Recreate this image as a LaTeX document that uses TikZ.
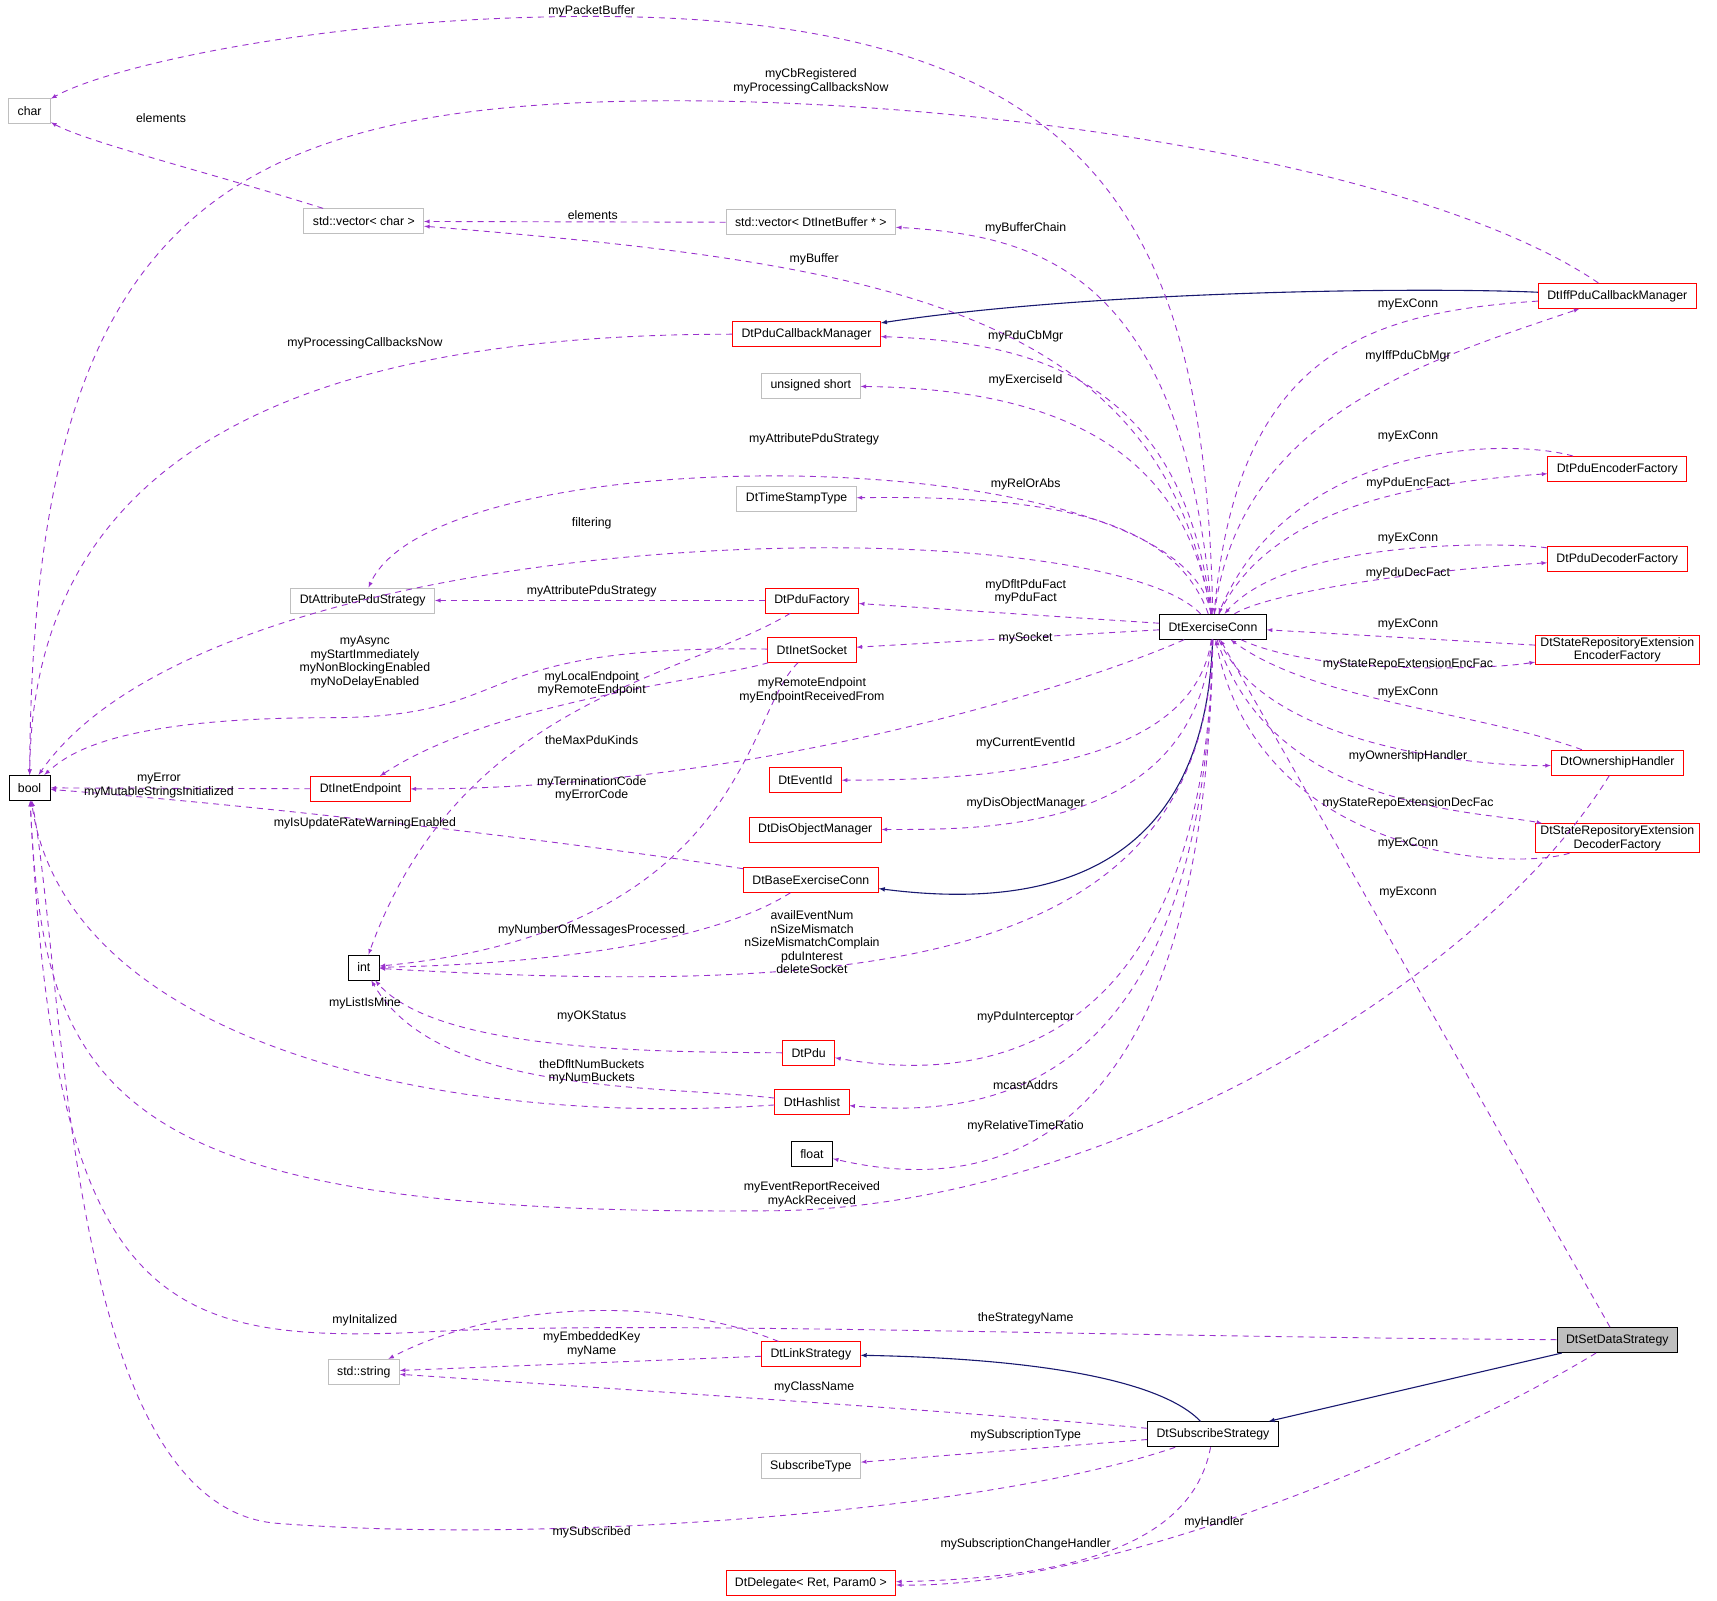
\documentclass[tikz,border=0pt]{standalone}
\usepackage{fontspec}
\setmainfont{Liberation Sans}
\usetikzlibrary{arrows}
\definecolor{deppurple}{RGB}{154, 50, 205}
\definecolor{inhnavy}{RGB}{25, 25, 112}
\definecolor{boxgray}{RGB}{191, 191, 191}
\tikzstyle{cls}=[draw,fill=white,line width=0.9pt,inner xsep=9pt,inner ysep=2pt,minimum height=25pt,font=\fontsize{12.3}{13.5}\selectfont,align=center]
\tikzstyle{clsred}=[cls,draw=red]
\tikzstyle{clsgray}=[cls,draw=boxgray]
\tikzstyle{dep}=[->,>=latex,deppurple,line width=0.9pt,dash pattern=on 6pt off 5pt]
\tikzstyle{inh}=[->,>=latex,inhnavy,line width=1.1pt]
\tikzstyle{lbl}=[font=\fontsize{12.3}{13.5}\selectfont,align=center,inner sep=0pt]

\begin{document}
\begin{tikzpicture}[x=1.096pt,y=-1.096pt]
\useasboundingbox (0,0) rectangle (1567,1461);

\node[clsgray] (char) at (27,101) {char};
\node[cls] (bool) at (27,719) {bool};
\node[clsgray] (vchar) at (332,202) {std::vector< char >};
\node[clsgray] (vbuf) at (740,203) {std::vector< DtInetBuffer * >};
\node[clsred] (pcm) at (736,305) {DtPduCallbackManager};
\node[clsgray] (ushort) at (740,352) {unsigned short};
\node[clsgray] (ts) at (727,455) {DtTimeStampType};
\node[clsgray] (attr) at (331,548) {DtAttributePduStrategy};
\node[clsred] (pf) at (741,548) {DtPduFactory};
\node[clsred] (sock) at (741,593) {DtInetSocket};
\node[clsred] (ep) at (329,720) {DtInetEndpoint};
\node[clsred] (eid) at (735,712) {DtEventId};
\node[clsred] (dom) at (744,757) {DtDisObjectManager};
\node[clsred] (base) at (740,803) {DtBaseExerciseConn};
\node[cls] (int) at (332,883) {int};
\node[clsred] (pdu) at (738,961) {DtPdu};
\node[clsred] (hash) at (741,1006) {DtHashlist};
\node[cls] (fl) at (741,1053) {float};
\node[clsgray] (str) at (332,1252) {std::string};
\node[clsred] (link) at (740,1236) {DtLinkStrategy};
\node[clsgray] (stype) at (740,1338) {SubscribeType};
\node[clsred] (del) at (740,1445) {DtDelegate< Ret, Param0 >};
\node[cls] (sub) at (1107,1309) {DtSubscribeStrategy};
\node[cls,fill=boxgray] (sds) at (1476,1223) {DtSetDataStrategy};
\node[cls] (E) at (1107,572) {DtExerciseConn};
\node[clsred] (iff) at (1476,270) {DtIffPduCallbackManager};
\node[clsred] (enc) at (1476,428) {DtPduEncoderFactory};
\node[clsred] (dec) at (1476,510) {DtPduDecoderFactory};
\node[clsred,inner xsep=5pt] (srenc) at (1476,593) {DtStateRepositoryExtension\\EncoderFactory};
\node[clsred] (own) at (1476,696) {DtOwnershipHandler};
\node[clsred,inner xsep=5pt] (srdec) at (1476,765) {DtStateRepositoryExtension\\DecoderFactory};

% inheritance
\draw[inh] (iff) .. controls (1300,262) and (1000,265) .. (pcm);
\draw[inh] (E) .. controls (1100,800) and (950,830) .. (base);
\draw[inh] (sub) .. controls (1060,1260) and (950,1240) .. (link);
\draw[inh] (sds) -- (sub);

% upper members
\draw[dep] (E) .. controls (1100,200) and (1000,15) .. (540,15) .. controls (300,15) and (100,60) .. (char);
\draw[dep] (iff) .. controls (1300,150) and (900,90) .. (600,92) .. controls (200,95) and (30,200) .. (bool);
\draw[dep] (vchar) .. controls (200,160) and (80,130) .. (char);
\draw[dep] (vbuf) -- (vchar);
\draw[dep] (E) .. controls (1080,250) and (950,215) .. (vbuf);
\draw[dep] (E) .. controls (1060,280) and (800,240) .. (vchar);
\draw[dep] (pcm) .. controls (300,305) and (30,400) .. (bool);
\draw[dep] (E) .. controls (1080,350) and (950,312) .. (pcm);
\draw[dep] (iff) .. controls (1250,285) and (1130,320) .. (E);
\draw[dep] (E) .. controls (1130,380) and (1300,330) .. (iff);
\draw[dep] (E) .. controls (1080,400) and (400,395) .. (attr);
\draw[dep] (E) .. controls (1080,400) and (950,355) .. (ushort);
\draw[dep] (E) .. controls (1070,470) and (950,452) .. (ts);
\draw[dep] (enc) .. controls (1380,400) and (1180,400) .. (E);
\draw[dep] (E) .. controls (1160,460) and (1300,440) .. (enc);
\draw[dep] (E) .. controls (1000,460) and (200,470) .. (bool);
\draw[dep] (dec) .. controls (1380,495) and (1180,490) .. (E);
\draw[dep] (E) .. controls (1160,540) and (1300,520) .. (dec);
\draw[dep] (pf) -- (attr);
\draw[dep] (E) -- (pf);
\draw[dep] (E) -- (sock);
\draw[dep] (srenc) -- (E);
\draw[dep] (E) .. controls (1200,615) and (1350,612) .. (srenc);
\draw[dep] (sock) .. controls (420,588) and (480,655) .. (300,655) .. controls (100,655) and (60,690) .. (bool);
\draw[dep] (sock) .. controls (650,620) and (450,640) .. (ep);
\draw[dep] (E) .. controls (1000,620) and (700,720) .. (ep);
\draw[dep] (own) .. controls (1350,650) and (1200,640) .. (E);
\draw[dep] (E) .. controls (1160,690) and (1380,700) .. (own);
\draw[dep] (pf) .. controls (620,620) and (420,640) .. (int);
\draw[dep] (sock) .. controls (680,650) and (680,850) .. (int);
\draw[dep] (ep) -- (bool);
\draw[dep] (E) .. controls (1090,700) and (900,712) .. (eid);
\draw[dep] (E) .. controls (1090,760) and (900,757) .. (dom);
\draw[dep] (base) .. controls (600,780) and (300,740) .. (bool);
\draw[dep] (E) .. controls (1160,740) and (1350,740) .. (srdec);
\draw[dep] (srdec) .. controls (1380,795) and (1150,785) .. (E);
\draw[dep] (base) .. controls (650,860) and (500,880) .. (int);
\draw[dep] (E) .. controls (1100,880) and (800,910) .. (int);
\draw[dep] (sds) -- (E);

% lower members
\draw[dep] (hash) .. controls (400,1030) and (60,950) .. (bool);
\draw[dep] (pdu) .. controls (600,960) and (400,960) .. (int);
\draw[dep] (E) .. controls (1100,960) and (900,990) .. (pdu);
\draw[dep] (hash) .. controls (600,990) and (400,1000) .. (int);
\draw[dep] (E) .. controls (1100,1000) and (900,1020) .. (hash);
\draw[dep] (E) .. controls (1100,1060) and (900,1090) .. (fl);
\draw[dep] (own) .. controls (1350,900) and (1000,1105) .. (700,1105) .. controls (100,1110) and (40,1000) .. (bool);
\draw[dep] (sds) .. controls (1000,1220) and (600,1205) .. (400,1215) .. controls (150,1228) and (50,1200) .. (bool);
\draw[dep] (link) .. controls (600,1180) and (450,1190) .. (str);
\draw[dep] (link) -- (str);
\draw[dep] (sub) .. controls (900,1290) and (600,1270) .. (str);
\draw[dep] (sub) -- (stype);
\draw[dep] (sub) .. controls (900,1380) and (500,1410) .. (250,1390) .. controls (60,1370) and (60,900) .. (bool);
\draw[dep] (sub) .. controls (1090,1400) and (1000,1440) .. (del);
\draw[dep] (sds) .. controls (1300,1330) and (1000,1450) .. (del);

% labels
\node[lbl] (l1) at (540,10) {myPacketBuffer};
\node[lbl] (l2) at (740,74) {myCbRegistered\\myProcessingCallbacksNow};
\node[lbl] (l3) at (147,108) {elements};
\node[lbl] (l4) at (541,196) {elements};
\node[lbl] (l5) at (936,208) {myBufferChain};
\node[lbl] (l6) at (743,237) {myBuffer};
\node[lbl] (l7) at (333,313) {myProcessingCallbacksNow};
\node[lbl] (l8) at (936,307) {myPduCbMgr};
\node[lbl] (l9) at (1285,278) {myExConn};
\node[lbl] (l10) at (1285,325) {myIffPduCbMgr};
\node[lbl] (l11) at (936,347) {myExerciseId};
\node[lbl] (l12) at (743,401) {myAttributePduStrategy};
\node[lbl] (l13) at (936,442) {myRelOrAbs};
\node[lbl] (l14) at (1285,398) {myExConn};
\node[lbl] (l15) at (1285,441) {myPduEncFact};
\node[lbl] (l16) at (540,478) {filtering};
\node[lbl] (l17) at (1285,491) {myExConn};
\node[lbl] (l18) at (1285,523) {myPduDecFact};
\node[lbl] (l19) at (540,540) {myAttributePduStrategy};
\node[lbl] (l20) at (936,540) {myDfltPduFact\\myPduFact};
\node[lbl] (l21) at (936,583) {mySocket};
\node[lbl] (l22) at (1285,570) {myExConn};
\node[lbl] (l23) at (1285,606) {myStateRepoExtensionEncFac};
\node[lbl] (l24) at (333,604) {myAsync\\myStartImmediately\\myNonBlockingEnabled\\myNoDelayEnabled};
\node[lbl] (l25) at (540,624) {myLocalEndpoint\\myRemoteEndpoint};
\node[lbl] (l26) at (741,630) {myRemoteEndpoint\\myEndpointReceivedFrom};
\node[lbl] (l27) at (1285,632) {myExConn};
\node[lbl] (l28) at (1285,690) {myOwnershipHandler};
\node[lbl] (l29) at (540,675) {theMaxPduKinds};
\node[lbl] (l30) at (540,720) {myTerminationCode\\myErrorCode};
\node[lbl] (l31) at (145,717) {myError\\myMutableStringsInitialized};
\node[lbl] (l32) at (936,678) {myCurrentEventId};
\node[lbl] (l33) at (936,733) {myDisObjectManager};
\node[lbl] (l34) at (333,751) {myIsUpdateRateWarningEnabled};
\node[lbl] (l35) at (1285,733) {myStateRepoExtensionDecFac};
\node[lbl] (l36) at (1285,770) {myExConn};
\node[lbl] (l37) at (540,849) {myNumberOfMessagesProcessed};
\node[lbl] (l38) at (741,860) {availEventNum\\nSizeMismatch\\nSizeMismatchComplain\\pduInterest\\deleteSocket};
\node[lbl] (l39) at (1285,815) {myExconn};
\node[lbl] (l40) at (333,916) {myListIsMine};
\node[lbl] (l41) at (540,928) {myOKStatus};
\node[lbl] (l42) at (936,928) {myPduInterceptor};
\node[lbl] (l43) at (540,978) {theDfltNumBuckets\\myNumBuckets};
\node[lbl] (l44) at (936,990) {mcastAddrs};
\node[lbl] (l45) at (936,1028) {myRelativeTimeRatio};
\node[lbl] (l46) at (741,1090) {myEventReportReceived\\myAckReceived};
\node[lbl] (l47) at (936,1203) {theStrategyName};
\node[lbl] (l48) at (333,1205) {myInitalized};
\node[lbl] (l49) at (540,1227) {myEmbeddedKey\\myName};
\node[lbl] (l50) at (743,1266) {myClassName};
\node[lbl] (l51) at (936,1310) {mySubscriptionType};
\node[lbl] (l52) at (540,1398) {mySubscribed};
\node[lbl] (l53) at (936,1409) {mySubscriptionChangeHandler};
\node[lbl] (l54) at (1108,1389) {myHandler};

\end{tikzpicture}
\end{document}
